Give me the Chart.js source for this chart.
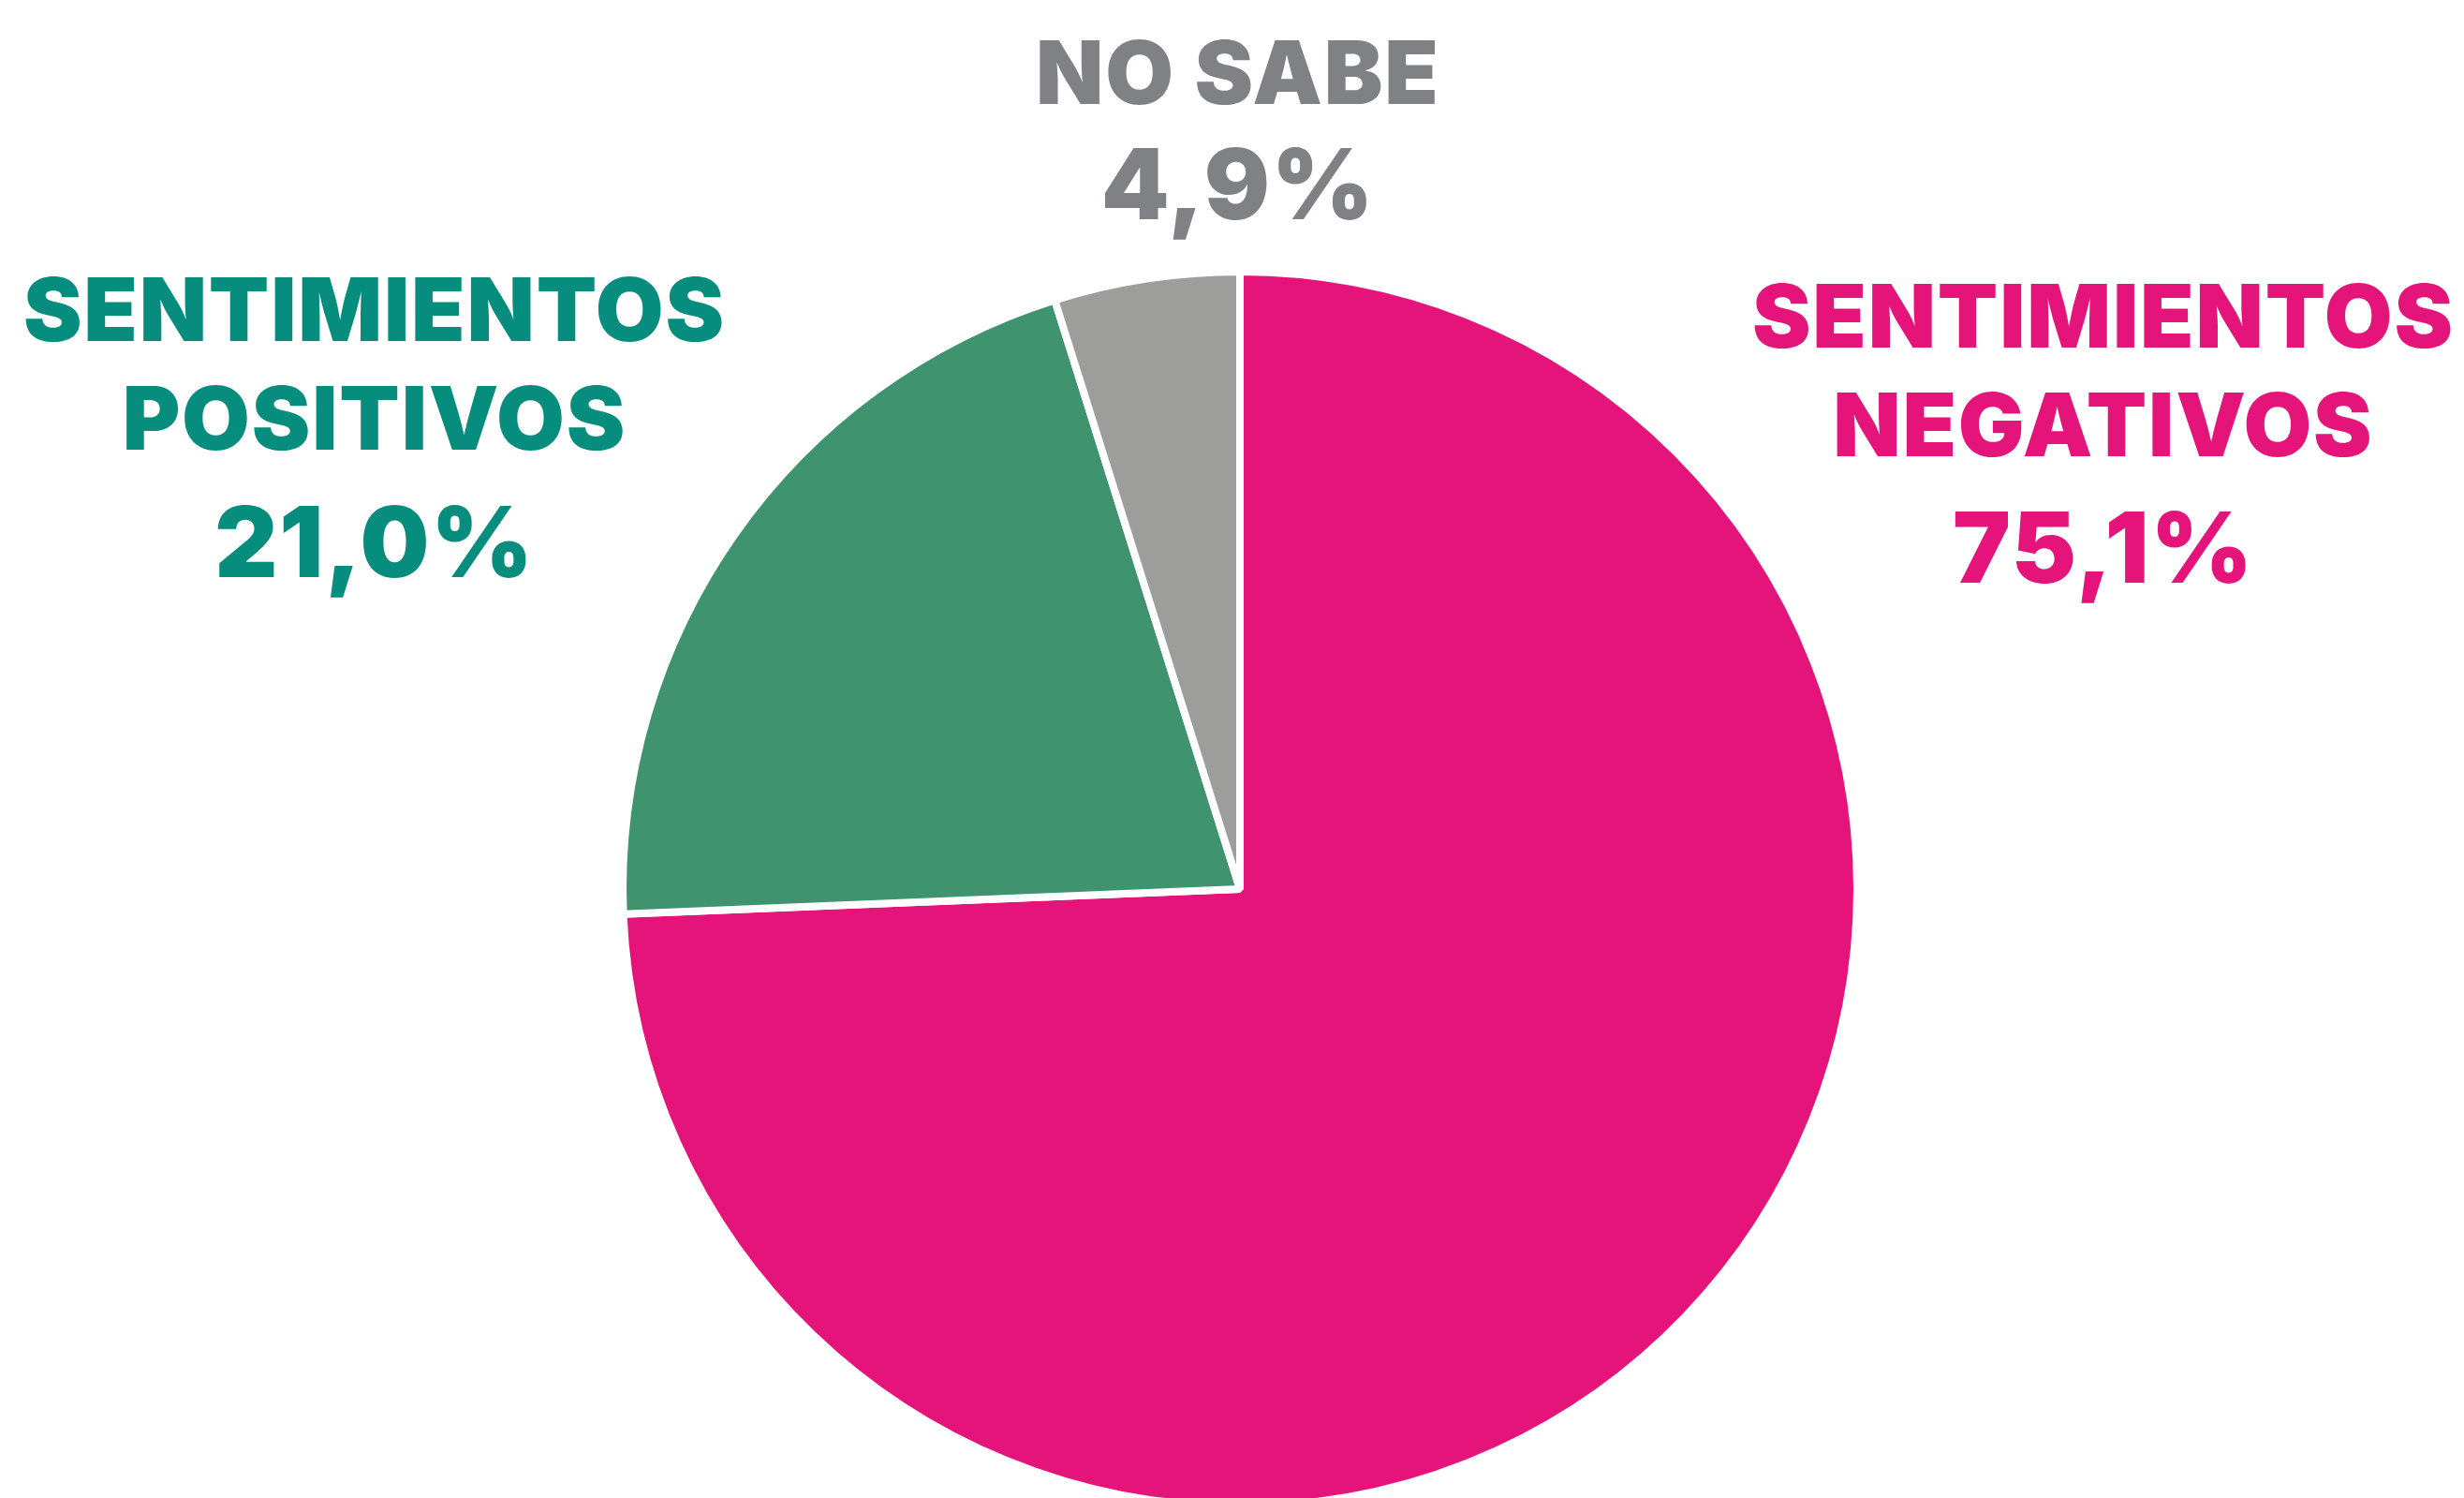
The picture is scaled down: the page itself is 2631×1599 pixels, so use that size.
<!DOCTYPE html>
<html lang="es">
<head>
<meta charset="utf-8">
<title>Sentimientos</title>
<script src="https://cdn.jsdelivr.net/npm/chart.js@4.4.1/dist/chart.umd.min.js"></script>
<style>
    html, body { margin: 0; padding: 0; background: #ffffff; overflow: hidden; }
    #wrap { width: 2631px; height: 1599px; overflow: hidden; position: relative; }
    #sentChart { display: block; }
</style>
</head>
<body>
<div id="wrap">
    <canvas id="sentChart" width="2631" height="1620"></canvas>
</div>
<script>
// Datos del gráfico
const CATEGORIAS = [
    ['SENTIMIENTOS', 'NEGATIVOS'],
    ['SENTIMIENTOS', 'POSITIVOS'],
    ['NO SABE']
];
const VALORES = [75.1, 21.0, 4.9];
const COLOR_SECTOR = ['#E5147A', '#40936F', '#9D9D9C'];
const COLOR_TEXTO = ['#E5147A', '#078D7E', '#808184'];

// Posición de cada etiqueta (centro x y líneas base)
const POS_ETIQUETA = [
    { x: 2245, lineas: [371, 487], pct: 622 },
    { x: 399, lineas: [364, 480], pct: 616 },
    { x: 1321, lineas: [111], pct: 234 }
];

const FUENTE = '"Inter", "Roboto", "DejaVu Sans", sans-serif';
const TAM_TEXTO = 94;
const TAM_PCT = 104;

function formatoPct(v) {
    return v.toFixed(1).replace('.', ',') + '%';
}

const etiquetasPlugin = {
    id: 'etiquetas',
    afterDraw(chart) {
        const ctx = chart.ctx;
        ctx.save();
        ctx.textBaseline = 'alphabetic';
        ctx.textAlign = 'left';
        ctx.font = `900 ${TAM_TEXTO}px ${FUENTE}`;
        ctx.letterSpacing = '0px';
        // espaciado para que "SENTIMIENTOS" mida lo mismo que en el original
        const ref = 'SENTIMIENTOS';
        const esp = (750 - ctx.measureText(ref).width) / ref.length;

        const dibujar = (txt, cx, y, size) => {
            ctx.font = `900 ${size}px ${FUENTE}`;
            ctx.letterSpacing = `${esp}px`;
            const w = ctx.measureText(txt).width - esp;
            ctx.fillText(txt, cx - w / 2, y);
        };

        CATEGORIAS.forEach((lineas, i) => {
            const pos = POS_ETIQUETA[i];
            ctx.fillStyle = COLOR_TEXTO[i];
            lineas.forEach((l, j) => dibujar(l, pos.x, pos.lineas[j], TAM_TEXTO));
            dibujar(formatoPct(VALORES[i]), pos.x, pos.pct, TAM_PCT);
        });
        ctx.restore();
    }
};

const ctxSent = document.getElementById('sentChart').getContext('2d');
new Chart(ctxSent, {
    type: 'pie',
    data: {
        labels: CATEGORIAS.map(c => c.join(' ')),
        datasets: [{
            data: VALORES,
            backgroundColor: COLOR_SECTOR,
            borderColor: '#ffffff',
            borderWidth: 8
        }]
    },
    options: {
        responsive: false,
        animation: false,
        layout: { padding: { top: 286, bottom: 8, left: 661, right: 644 } },
        plugins: {
            legend: { display: false },
            tooltip: { enabled: false }
        }
    },
    plugins: [etiquetasPlugin]
});
</script>
</body>
</html>
